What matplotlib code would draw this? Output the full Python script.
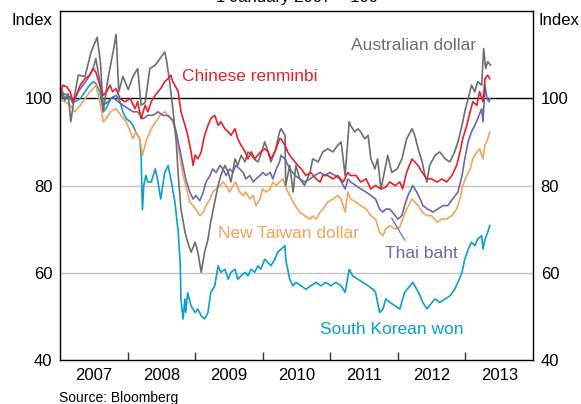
import matplotlib
matplotlib.use("Agg")
import matplotlib.pyplot as plt
import numpy as np

plt.rcParams['font.family'] = ['Liberation Sans', 'DejaVu Sans']

# index, 1 January 2007 = 100 (dates as decimal years)
aud = [(2007.00, 100.0), (2007.04, 101.5), (2007.07, 99.5), (2007.12, 101.0), (2007.16, 94.6),
       (2007.22, 101.0), (2007.27, 105.3), (2007.37, 105.0), (2007.46, 110.6), (2007.55, 114.0),
       (2007.60, 108.0), (2007.64, 96.9), (2007.71, 104.5), (2007.79, 111.0), (2007.83, 114.6),
       (2007.87, 101.5), (2007.93, 105.0), (2008.01, 102.0), (2008.08, 105.0), (2008.15, 106.8),
       (2008.20, 98.4), (2008.26, 99.0), (2008.33, 106.8), (2008.41, 107.6), (2008.48, 109.1),
       (2008.55, 110.6), (2008.58, 108.4), (2008.62, 104.0), (2008.67, 97.6), (2008.72, 90.0),
       (2008.75, 82.3), (2008.79, 74.6), (2008.85, 69.3), (2008.89, 67.0), (2008.94, 64.7),
       (2009.00, 67.0), (2009.04, 64.7), (2009.09, 60.1), (2009.14, 64.7), (2009.19, 67.7),
       (2009.23, 71.6), (2009.29, 76.2), (2009.34, 80.0), (2009.38, 82.3), (2009.44, 84.6),
       (2009.49, 83.0), (2009.53, 80.8), (2009.59, 86.1), (2009.63, 84.6), (2009.68, 86.9),
       (2009.74, 85.4), (2009.78, 87.7), (2009.83, 87.0), (2009.88, 86.0), (2009.93, 85.4),
       (2009.97, 87.0), (2010.03, 90.0), (2010.08, 87.7), (2010.12, 85.4), (2010.18, 87.7),
       (2010.25, 92.3), (2010.27, 93.0), (2010.33, 91.5), (2010.34, 80.0), (2010.40, 84.6),
       (2010.45, 78.5), (2010.49, 84.6), (2010.55, 81.5), (2010.62, 80.0), (2010.70, 83.0),
       (2010.74, 86.1), (2010.82, 85.4), (2010.89, 87.7), (2010.96, 88.4), (2011.04, 87.7),
       (2011.11, 89.2), (2011.16, 90.0), (2011.22, 82.3), (2011.28, 94.6), (2011.30, 93.8),
       (2011.36, 92.3), (2011.41, 93.0), (2011.45, 92.3), (2011.51, 90.7), (2011.56, 91.5),
       (2011.60, 86.1), (2011.66, 83.8), (2011.70, 86.1), (2011.75, 79.2), (2011.81, 83.8),
       (2011.85, 86.9), (2011.91, 83.0), (2011.99, 83.8), (2012.06, 86.1), (2012.13, 90.7),
       (2012.21, 93.0), (2012.25, 91.5), (2012.30, 88.4), (2012.36, 85.4), (2012.40, 82.3),
       (2012.43, 80.8), (2012.47, 84.6), (2012.55, 86.9), (2012.62, 87.7), (2012.70, 86.1),
       (2012.77, 85.4), (2012.84, 87.7), (2012.89, 90.0), (2012.95, 93.8), (2012.99, 96.9),
       (2013.04, 99.9), (2013.09, 103.0), (2013.14, 101.5), (2013.18, 103.8), (2013.24, 103.0),
       (2013.27, 111.4), (2013.30, 106.8), (2013.33, 108.4), (2013.37, 107.6)]

cny = [(2007.00, 100.0), (2007.04, 103.0), (2007.10, 102.6), (2007.15, 101.5), (2007.19, 99.2),
       (2007.24, 100.7), (2007.30, 103.0), (2007.37, 104.5), (2007.44, 105.3), (2007.49, 106.8),
       (2007.53, 106.0), (2007.59, 103.0), (2007.64, 100.7), (2007.69, 101.5), (2007.74, 103.0),
       (2007.78, 101.5), (2007.83, 102.2), (2007.89, 99.9), (2007.96, 99.2), (2008.04, 99.9),
       (2008.11, 97.6), (2008.15, 99.2), (2008.20, 95.3), (2008.26, 98.4), (2008.30, 96.9),
       (2008.35, 99.2), (2008.41, 100.7), (2008.45, 101.5), (2008.49, 102.2), (2008.55, 103.8),
       (2008.60, 104.5), (2008.64, 105.3), (2008.67, 103.8), (2008.75, 101.5), (2008.79, 96.9),
       (2008.85, 93.8), (2008.89, 91.5), (2008.94, 87.7), (2008.97, 84.6), (2009.00, 87.0),
       (2009.04, 86.1), (2009.09, 87.7), (2009.14, 91.5), (2009.19, 93.8), (2009.23, 95.3),
       (2009.29, 96.1), (2009.34, 93.8), (2009.38, 94.6), (2009.44, 93.0), (2009.49, 92.3),
       (2009.53, 91.5), (2009.59, 93.0), (2009.63, 90.7), (2009.68, 89.2), (2009.74, 87.7),
       (2009.78, 86.1), (2009.83, 87.7), (2009.88, 86.1), (2009.93, 87.0), (2009.97, 87.7),
       (2010.03, 88.4), (2010.08, 87.7), (2010.12, 86.1), (2010.18, 87.7), (2010.25, 90.7),
       (2010.27, 90.7), (2010.33, 89.2), (2010.37, 87.7), (2010.42, 86.5), (2010.48, 85.4),
       (2010.52, 84.6), (2010.57, 83.8), (2010.64, 82.3), (2010.71, 83.0), (2010.79, 81.5),
       (2010.85, 80.8), (2010.89, 82.3), (2010.96, 82.3), (2011.04, 81.5), (2011.11, 82.3),
       (2011.19, 80.8), (2011.26, 83.0), (2011.30, 82.3), (2011.38, 82.3), (2011.45, 80.8),
       (2011.53, 81.5), (2011.60, 79.2), (2011.67, 80.0), (2011.75, 79.2), (2011.82, 79.6),
       (2011.88, 80.8), (2011.96, 80.0), (2012.03, 80.8), (2012.07, 79.2), (2012.13, 83.0),
       (2012.21, 86.1), (2012.25, 85.4), (2012.30, 84.6), (2012.36, 83.0), (2012.43, 81.5),
       (2012.50, 81.5), (2012.58, 80.8), (2012.65, 81.5), (2012.72, 80.8), (2012.80, 82.3),
       (2012.87, 84.6), (2012.92, 87.7), (2012.96, 90.7), (2013.02, 93.8), (2013.07, 96.9),
       (2013.11, 99.2), (2013.17, 98.4), (2013.21, 101.5), (2013.26, 99.2), (2013.29, 104.5),
       (2013.33, 105.3), (2013.36, 104.5)]

thb = [(2007.00, 100.0), (2007.07, 101.0), (2007.15, 100.3), (2007.19, 98.8), (2007.27, 101.5),
       (2007.34, 103.0), (2007.41, 104.5), (2007.49, 106.8), (2007.53, 109.1), (2007.59, 103.8),
       (2007.64, 98.4), (2007.71, 99.2), (2007.78, 100.3), (2007.86, 99.2), (2007.93, 98.4),
       (2008.01, 97.6), (2008.08, 96.9), (2008.15, 96.9), (2008.23, 95.3), (2008.30, 96.1),
       (2008.38, 96.1), (2008.45, 96.9), (2008.52, 96.1), (2008.60, 96.0), (2008.67, 95.0),
       (2008.72, 92.3), (2008.78, 87.7), (2008.82, 84.6), (2008.86, 81.5), (2008.92, 78.5),
       (2008.97, 76.9), (2009.01, 77.7), (2009.07, 76.5), (2009.12, 78.5), (2009.16, 80.8),
       (2009.22, 82.3), (2009.26, 83.8), (2009.31, 83.0), (2009.37, 84.6), (2009.41, 83.8),
       (2009.46, 82.3), (2009.51, 83.8), (2009.56, 83.0), (2009.60, 84.6), (2009.66, 83.8),
       (2009.71, 83.0), (2009.75, 81.5), (2009.81, 82.3), (2009.86, 80.8), (2009.90, 81.5),
       (2009.96, 82.3), (2010.00, 83.0), (2010.05, 82.3), (2010.11, 83.0), (2010.15, 81.5),
       (2010.20, 83.8), (2010.25, 85.4), (2010.27, 86.9), (2010.33, 86.1), (2010.40, 83.8),
       (2010.48, 82.3), (2010.55, 81.5), (2010.62, 80.8), (2010.70, 81.5), (2010.77, 82.3),
       (2010.85, 83.0), (2010.92, 82.3), (2010.99, 83.0), (2011.07, 82.3), (2011.14, 81.5),
       (2011.22, 79.2), (2011.26, 81.5), (2011.30, 80.8), (2011.38, 80.0), (2011.45, 79.2),
       (2011.53, 78.5), (2011.60, 77.7), (2011.67, 76.9), (2011.73, 74.6), (2011.78, 73.9),
       (2011.82, 74.6), (2011.88, 74.6), (2011.96, 73.1), (2012.00, 72.3), (2012.06, 73.1),
       (2012.10, 75.4), (2012.15, 77.7), (2012.22, 80.0), (2012.28, 78.5), (2012.33, 76.9),
       (2012.37, 75.4), (2012.44, 74.6), (2012.52, 73.9), (2012.59, 74.6), (2012.67, 75.4),
       (2012.74, 75.4), (2012.81, 76.9), (2012.89, 78.5), (2012.95, 82.3), (2012.99, 86.1),
       (2013.04, 90.0), (2013.09, 92.3), (2013.14, 93.8), (2013.18, 95.3), (2013.24, 97.6),
       (2013.26, 94.6), (2013.29, 103.0), (2013.32, 99.9), (2013.35, 99.2), (2013.36, 99.9)]

twd = [(2007.00, 99.9), (2007.07, 99.2), (2007.15, 98.4), (2007.22, 96.9), (2007.30, 98.4),
       (2007.37, 99.9), (2007.44, 101.5), (2007.49, 102.2), (2007.53, 103.0), (2007.59, 99.2),
       (2007.64, 94.6), (2007.68, 95.3), (2007.75, 96.9), (2007.83, 97.6), (2007.90, 96.1),
       (2007.98, 94.6), (2008.04, 92.3), (2008.08, 90.7), (2008.12, 92.3), (2008.18, 90.7),
       (2008.22, 86.9), (2008.27, 90.0), (2008.33, 92.3), (2008.38, 93.8), (2008.42, 94.6),
       (2008.48, 96.1), (2008.55, 96.9), (2008.60, 96.1), (2008.67, 94.6), (2008.72, 91.5),
       (2008.78, 86.1), (2008.82, 82.3), (2008.86, 80.0), (2008.92, 76.2), (2008.97, 75.4),
       (2009.01, 74.6), (2009.07, 73.1), (2009.12, 73.9), (2009.16, 75.4), (2009.22, 76.9),
       (2009.26, 78.5), (2009.31, 79.2), (2009.37, 80.0), (2009.41, 80.8), (2009.46, 80.0),
       (2009.51, 78.5), (2009.56, 80.0), (2009.60, 80.8), (2009.66, 78.5), (2009.71, 77.7),
       (2009.75, 78.5), (2009.81, 76.9), (2009.86, 77.7), (2009.90, 75.4), (2009.96, 76.9),
       (2010.00, 79.2), (2010.05, 78.5), (2010.11, 79.2), (2010.15, 80.8), (2010.20, 80.0),
       (2010.25, 80.8), (2010.30, 81.5), (2010.33, 80.0), (2010.40, 77.7), (2010.48, 75.4),
       (2010.55, 73.9), (2010.62, 73.1), (2010.70, 72.3), (2010.74, 73.0), (2010.79, 72.3),
       (2010.85, 73.9), (2010.89, 74.6), (2010.96, 76.2), (2011.04, 76.9), (2011.11, 77.7),
       (2011.16, 76.9), (2011.22, 73.9), (2011.26, 78.5), (2011.30, 76.9), (2011.38, 76.2),
       (2011.45, 75.4), (2011.53, 74.6), (2011.60, 73.1), (2011.67, 72.3), (2011.73, 69.3),
       (2011.78, 68.5), (2011.82, 70.0), (2011.88, 70.8), (2011.96, 70.0), (2012.03, 70.5),
       (2012.07, 72.3), (2012.13, 74.6), (2012.21, 76.9), (2012.25, 76.2), (2012.30, 75.4),
       (2012.36, 73.9), (2012.43, 73.1), (2012.50, 73.1), (2012.58, 71.6), (2012.65, 72.3),
       (2012.72, 72.3), (2012.80, 73.1), (2012.87, 74.6), (2012.92, 76.9), (2012.96, 80.0),
       (2013.02, 82.3), (2013.07, 83.8), (2013.11, 86.1), (2013.17, 87.7), (2013.21, 88.4),
       (2013.26, 86.1), (2013.29, 89.2), (2013.33, 90.7), (2013.36, 92.3)]

krw = [(2007.00, 99.9), (2007.07, 100.3), (2007.15, 99.9), (2007.22, 99.2), (2007.30, 99.9),
       (2007.37, 101.5), (2007.44, 103.0), (2007.49, 103.8), (2007.53, 103.4), (2007.59, 101.5),
       (2007.64, 96.9), (2007.68, 97.6), (2007.75, 99.9), (2007.83, 100.7), (2007.89, 99.2),
       (2007.93, 96.9), (2007.98, 95.3), (2008.04, 94.6), (2008.08, 93.8), (2008.12, 92.3),
       (2008.18, 90.7), (2008.20, 86.9), (2008.22, 74.4), (2008.24, 80.0), (2008.27, 82.3),
       (2008.30, 80.8), (2008.35, 80.8), (2008.41, 83.8), (2008.45, 80.8), (2008.49, 76.9),
       (2008.55, 83.0), (2008.60, 84.6), (2008.64, 81.5), (2008.70, 76.2), (2008.75, 69.3),
       (2008.78, 61.6), (2008.79, 54.0), (2008.82, 49.4), (2008.85, 54.0), (2008.86, 50.9),
       (2008.89, 55.4), (2008.94, 52.4), (2009.00, 50.9), (2009.04, 51.7), (2009.09, 50.1),
       (2009.14, 49.4), (2009.19, 50.9), (2009.23, 55.4), (2009.29, 57.0), (2009.34, 61.6),
       (2009.38, 60.1), (2009.44, 60.8), (2009.49, 58.5), (2009.53, 60.1), (2009.59, 60.8),
       (2009.63, 58.5), (2009.68, 59.3), (2009.74, 60.1), (2009.78, 59.3), (2009.83, 60.8),
       (2009.88, 60.1), (2009.93, 61.6), (2009.97, 60.8), (2010.03, 63.1), (2010.08, 62.3),
       (2010.12, 61.6), (2010.18, 63.1), (2010.22, 64.7), (2010.27, 65.4), (2010.33, 66.2),
       (2010.34, 63.1), (2010.40, 58.5), (2010.45, 57.0), (2010.49, 57.8), (2010.57, 57.0),
       (2010.64, 56.2), (2010.71, 57.0), (2010.79, 57.8), (2010.86, 57.0), (2010.93, 57.8),
       (2011.01, 57.0), (2011.08, 57.8), (2011.16, 57.0), (2011.22, 55.5), (2011.28, 60.8),
       (2011.33, 59.3), (2011.41, 58.5), (2011.48, 57.8), (2011.56, 57.0), (2011.63, 56.2),
       (2011.67, 55.5), (2011.73, 50.9), (2011.78, 51.7), (2011.82, 54.0), (2011.88, 53.2),
       (2011.96, 52.4), (2012.03, 51.7), (2012.10, 55.5), (2012.18, 57.0), (2012.22, 57.8),
       (2012.28, 56.2), (2012.33, 54.7), (2012.37, 53.2), (2012.43, 51.7), (2012.47, 52.5),
       (2012.55, 54.0), (2012.62, 53.2), (2012.70, 54.0), (2012.77, 54.7), (2012.84, 56.2),
       (2012.89, 57.8), (2012.95, 60.1), (2012.99, 63.1), (2013.04, 65.4), (2013.09, 67.0),
       (2013.14, 66.2), (2013.18, 67.7), (2013.24, 68.5), (2013.26, 65.4), (2013.29, 67.7),
       (2013.33, 69.3), (2013.36, 70.8)]

years = [2007, 2008, 2009, 2010, 2011, 2012, 2013]
yticks = [40, 60, 80, 100]

c_aud = '#6d6e71'
c_cny = '#e8202a'
c_thb = '#6a69ae'
c_twd = '#f4a45a'
c_krw = '#0c9fca'

fig = plt.figure(figsize=(5.81, 4.04), dpi=100)
ax = fig.add_axes([60/581, 44/404, 473/581, 349/404])

ax.axhline(60, color='#c4c4c4', lw=1.0, zorder=1)
ax.axhline(80, color='#c4c4c4', lw=1.0, zorder=1)
ax.axhline(100, color='black', lw=1.0, zorder=1)

for s, c in [(krw, c_krw), (twd, c_twd), (thb, c_thb), (aud, c_aud), (cny, c_cny)]:
    t, v = np.array(s).T
    ax.plot(t, v, color=c, lw=1.2, zorder=2)

ax.set_xlim(2007, 2014)
ax.set_ylim(40, 120)

ax.set_xticks(years[1:])
ax.set_xticklabels([])
ax.set_xticks([y + 0.5 for y in years], minor=True)
ax.set_xticklabels([str(y) for y in years], minor=True)
ax.tick_params(axis='x', which='major', direction='in', length=6, width=1, color='#333333')
ax.tick_params(axis='x', which='minor', length=0, pad=6, labelsize=12)

ax.set_yticks(yticks)
ax.set_yticklabels([str(y) for y in yticks])
ax.tick_params(axis='y', length=0, labelsize=12, pad=5.5, labelleft=True, labelright=True)

for sp in ax.spines.values():
    sp.set_color('black')
    sp.set_linewidth(1.0)

ax.text(-0.017, 0.974, 'Index', transform=ax.transAxes, ha='right', va='center', fontsize=12)
ax.text(1.011, 0.974, 'Index', transform=ax.transAxes, ha='left', va='center', fontsize=12)

ax.text(2011.30, 112.0, 'Australian dollar', color=c_aud, fontsize=12.5, va='center')
ax.text(2008.80, 104.9, 'Chinese renminbi', color=c_cny, fontsize=12.5, va='center')
ax.text(2009.34, 69.1, 'New Taiwan dollar', color=c_twd, fontsize=12.5, va='center')
ax.text(2011.81, 64.3, 'Thai baht', color=c_thb, fontsize=12.5, va='center')
ax.text(2010.85, 46.9, 'South Korean won', color=c_krw, fontsize=12.5, va='center')
ax.plot([2012.10, 2011.91], [67.5, 72.5], color=c_thb, lw=0.9)

fig.text(297/581, 1.006, '1 January 2007 = 100', ha='center', va='center', fontsize=12)
fig.text(59/581, 6/404, 'Source: Bloomberg', ha='left', va='center', fontsize=10)

fig.savefig('out.png', dpi=100)
